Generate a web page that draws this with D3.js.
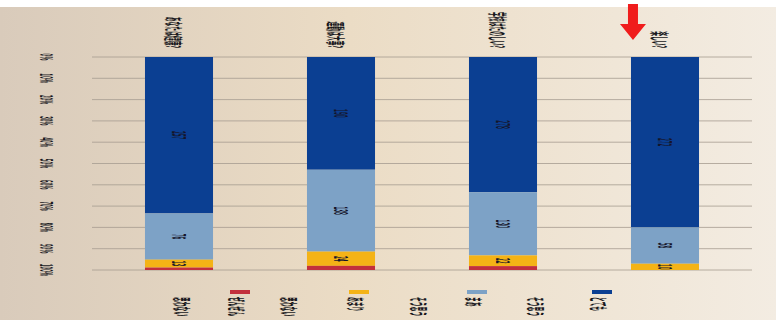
<!DOCTYPE html>
<html>
<head>
<meta charset="utf-8">
<script src="https://cdn.jsdelivr.net/npm/d3@7"></script>
<style>
  body { margin: 0; background: #fff; }
  svg text { font-family: "Noto Sans CJK JP", "Noto Sans", sans-serif; fill: #18181c; }
</style>
</head>
<body>
<svg id="chart" width="776" height="320"></svg>
<script>
// カテゴリ（棒ごと）
const categories = ["あなたは健康?", "運動は大事?", "学校はたのしい?", "楽しい?"]
// 回答の区分（上から順に積む）
const seriesKeys = ["とても", "まあ", "あまり", "ぜんぜん"]
const seriesLines = [["とても", "そう思う"], ["まあ", "そう思う"], ["あまり", "思わない"], ["ぜんぜん", "思わない"]]
// 各区分の人数
const veryYes = [257, 190, 278, 272]
const ratherYes = [76, 138, 130, 58]
const ratherNo = [13, 24, 22, 10]
const notAtAll = [4, 7, 8, 0]
// 目盛りラベル
const tickValues = [0, .1, .2, .3, .4, .5, .6, .7, .8, .9, 1]

const colors = ["#0b3f92", "#7da2c6", "#f4b316", "#c2303c"]

// 写真は横倒し＆縦につぶれているので、文字は回転して縮める
const squash = "rotate(90) scale(0.4,1.6)"

const svg = d3.select("#chart"),
    width = +svg.attr("width"),
    height = +svg.attr("height");

// 背景（紙っぽい色）
const defs = svg.append("defs")
const bg = defs.append("linearGradient").attr("id", "paper")
    .attr("x1", "0%").attr("x2", "100%").attr("y1", "0%").attr("y2", "0%")
bg.append("stop").attr("offset", "0%").style("stop-color", "#d9cbbb")
bg.append("stop").attr("offset", "45%").style("stop-color", "#ebdcc5")
bg.append("stop").attr("offset", "100%").style("stop-color", "#f3ece2")
svg.append("rect").attr("x", 0).attr("y", 7).attr("width", width).attr("height", height - 7)
    .attr("fill", "url(#paper)")

// データを割合に変換
const table = categories.map((c, i) => {
    const vals = [veryYes[i], ratherYes[i], ratherNo[i], notAtAll[i]]
    const total = d3.sum(vals)
    const row = { cat: c, total: total }
    seriesKeys.forEach((k, j) => { row[k] = vals[j] / total; row[k + "_n"] = vals[j] })
    return row
})
const stacked = d3.stack().keys(seriesKeys)(table)

const x = d3.scaleBand().domain(categories).range([98, 746]).paddingInner(0.58).paddingOuter(0.29)
const y = d3.scaleLinear().domain([0, 1]).range([57, 270])

// グリッド線
svg.append("g").selectAll("line").data(tickValues).join("line")
    .attr("x1", 92).attr("x2", 752)
    .attr("y1", d => y(d)).attr("y2", d => y(d))
    .attr("stroke", "#a69c90").attr("stroke-width", 0.8)

// 縦軸ラベル
svg.append("g").selectAll("text").data(tickValues).join("text")
    .attr("transform", d => `translate(46,${y(d)}) ${squash}`)
    .attr("text-anchor", "middle").attr("dy", "0.35em")
    .style("font-size", "11px").style("font-weight", "bold")
    .text(d => Math.round(d * 100) + "%")

// 棒
const layers = svg.append("g").selectAll("g").data(stacked).join("g")
    .attr("fill", (d, i) => colors[i])
layers.selectAll("rect").data(d => d).join("rect")
    .attr("x", d => x(d.data.cat))
    .attr("width", x.bandwidth())
    .attr("y", d => y(d[0]))
    .attr("height", d => y(d[1]) - y(d[0]))

// 棒の中の人数
stacked.forEach((layer, i) => {
    if (i === 3) return
    svg.append("g").selectAll("text").data(layer).join("text")
        .attr("transform", d => `translate(${x(d.data.cat) + x.bandwidth() / 2},${(y(d[0]) + y(d[1])) / 2}) ${squash}`)
        .attr("text-anchor", "middle").attr("dy", "0.35em")
        .style("font-size", "12px").style("font-weight", "bold")
        .style("fill", "#15152a")
        .text(d => d.data[layer.key + "_n"])
})

// カテゴリ名
svg.append("g").selectAll("text").data(categories).join("text")
    .attr("transform", d => `translate(${x(d) + x.bandwidth() / 2 - 6},48) ${squash}`)
    .attr("text-anchor", "end").attr("dy", "0.35em")
    .style("font-size", "12px").style("font-weight", "bold")
    .text(d => d)

// 赤い矢印
const ax = x(categories[3]) + 2
svg.append("path")
    .attr("d", `M${ax - 5},4 h10 v20 h8 l-13,16 l-13,-16 h8 z`)
    .attr("fill", "#f01c1c")

// 凡例（左から ぜんぜん → とても）
const legendX = [600, 475, 357, 238]
const secondOffset = [-63, -55, -67, -55]
const legend = svg.append("g").selectAll("g").data(seriesLines).join("g")
    .attr("transform", (d, i) => `translate(${legendX[i]},0)`)
legend.append("rect")
    .attr("x", -8).attr("y", 290).attr("width", 20).attr("height", 4)
    .attr("fill", (d, i) => colors[i])
legend.append("text")
    .attr("transform", `translate(-2,297) ${squash}`)
    .attr("dy", "0.35em")
    .style("font-size", "12px").style("font-weight", "bold")
    .text(d => d[0])
legend.append("text")
    .attr("transform", (d, i) => `translate(${secondOffset[i] - 2},297) ${squash}`)
    .attr("dy", "0.35em")
    .style("font-size", "12px").style("font-weight", "bold")
    .text(d => d[1])
</script>
</body>
</html>
